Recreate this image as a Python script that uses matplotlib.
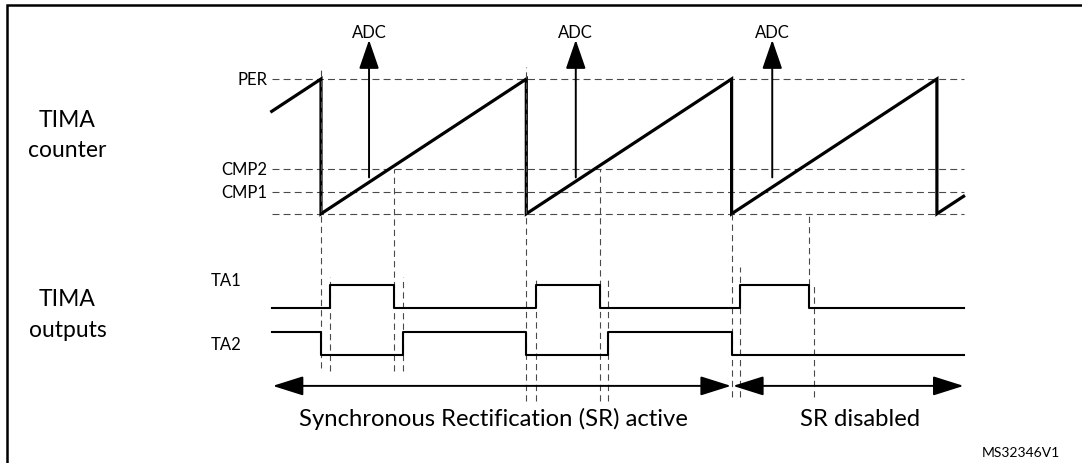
import numpy as np
import matplotlib.pyplot as plt

plt.rcParams['font.family'] = ['Lato', 'DejaVu Sans']
plt.rcParams['lines.scale_dashes'] = False

W, H = 1082, 464

# time axis in PWM periods, t=0 at first counter reset
saw_t = [-0.24, 0, 0, 1, 1, 2, 2, 3, 3, 3.13]
saw_cnt = [0.76, 1, 0, 1, 0, 1, 0, 1, 0, 0.13]
level_names = ['PER', 'CMP2', 'CMP1', '']
level_values = [1.0, 0.336, 0.165, 0.0]
adc_t = [0.234, 1.241, 2.198]
adc_from, adc_to = 0.27, 1.29

ta1_t = [-0.24, 0.044, 0.357, 1.045, 1.359, 2.042, 2.377, 3.13]
ta1_lvl = [0, 1, 0, 1, 0, 1, 0, 0]
ta2_t = [-0.24, 0.0, 0.401, 1.0, 1.398, 2.0, 3.13]
ta2_lvl = [1, 0, 1, 0, 1, 0, 0]
ta2_base = -2.02

sr_names = ['Synchronous Rectification (SR) active', 'SR disabled']
sr_spans = [(-0.235, 1.997), (2.007, 3.13)]
sr_label_t = [0.838, 2.624]

# dashed guides: (time, top row px, bottom row px)
guides = [(0.0, 68, 369), (0.044, 278, 372), (0.357, 169.5, 372), (0.401, 278, 372),
          (1.0, 68, 402), (1.045, 280, 402), (1.359, 169.5, 402), (1.398, 281, 402),
          (2.0, 215, 398), (2.042, 268, 398), (2.377, 215, 286), (2.40, 286, 398)]

x0_px, period_px = 321, 205.3


def full_ylim(px0, px1):
    # value 0 sits on row px0, value 1 on row px1
    s = px0 - px1
    return -(H - px0) / s, px0 / s


fig = plt.figure(figsize=(W / 100, H / 100), dpi=100)
xlim = (-x0_px / period_px, (W - x0_px) / period_px)

ax_c = fig.add_axes([0, 0, 1, 1])
ax_o = fig.add_axes([0, 0, 1, 1])
for ax in (ax_c, ax_o):
    ax.set_xlim(*xlim)
    ax.axis('off')
    ax.patch.set_alpha(0)
ax_c.set_ylim(*full_ylim(214.8, 80))
ax_o.set_ylim(*full_ylim(309.3, 286))

dash_col = '#4a4a4a'
lab_fs = 12
# counter levels
ax_c.hlines(level_values, saw_t[0], saw_t[-1], colors=dash_col, lw=0.8,
            linestyles=[(0, (5, 3))])
for name, v in zip(level_names, level_values):
    if name:
        ax_c.text(-0.262, v, name, ha='right', va='center', fontsize=lab_fs)

# guides
gt = [g[0] for g in guides]
ax_o.vlines(gt, [1 - g[2] / H for g in guides], [1 - g[1] / H for g in guides],
            transform=ax_o.get_xaxis_transform(), colors=dash_col, lw=0.8,
            linestyles=[(0, (4.5, 3))])

# sawtooth
ax_c.plot(saw_t, saw_cnt, color='black', lw=2.3, solid_joinstyle='miter')

# ADC triggers
for t in adc_t:
    ax_c.annotate('', xy=(t, adc_to), xytext=(t, adc_from),
                  arrowprops=dict(arrowstyle='-|>,head_length=1.8,head_width=0.62',
                                  mutation_scale=10, lw=1.4, color='black',
                                  shrinkA=0, shrinkB=0))
    ax_c.text(t, 1.315, 'ADC', ha='center', va='baseline', fontsize=lab_fs)

# outputs
ax_o.plot(ta1_t, ta1_lvl, drawstyle='steps-post', color='black', lw=1.5)
ax_o.plot(ta2_t, np.array(ta2_lvl) + ta2_base, drawstyle='steps-post', color='black', lw=1.5)
ax_o.text(-0.535, 1.21, 'TA1', ha='left', va='center', fontsize=lab_fs)
ax_o.text(-0.535, ta2_base + 0.5, 'TA2', ha='left', va='center', fontsize=lab_fs)

# SR phases
for (a, b), name, tx in zip(sr_spans, sr_names, sr_label_t):
    ax_o.annotate('', xy=(b, -3.33), xytext=(a, -3.33),
                  arrowprops=dict(arrowstyle='<|-|>,head_length=1.9,head_width=0.6',
                                  mutation_scale=10, lw=1.4, color='black',
                                  shrinkA=0, shrinkB=0))
    ax_o.text(tx, -4.99, name, ha='center', va='baseline', fontsize=17.2)

# row titles
for txt, y in [('TIMA', 127.3), ('counter', 156.7), ('TIMA', 305.7), ('outputs', 336.7)]:
    fig.text(67.5 / W, 1 - y / H, txt, ha='center', va='baseline', fontsize=16.5)

fig.text(1021 / W, 1 - 457 / H, 'MS32346V1', ha='center', va='baseline', fontsize=10)

# frame
fig.add_artist(plt.Line2D([7.3 / W, 7.3 / W, 1], [0, 1 - 5.7 / H, 1 - 5.7 / H],
                          transform=fig.transFigure, color='black', lw=1.8,
                          solid_joinstyle='miter'))

fig.savefig('out.png', dpi=100)
